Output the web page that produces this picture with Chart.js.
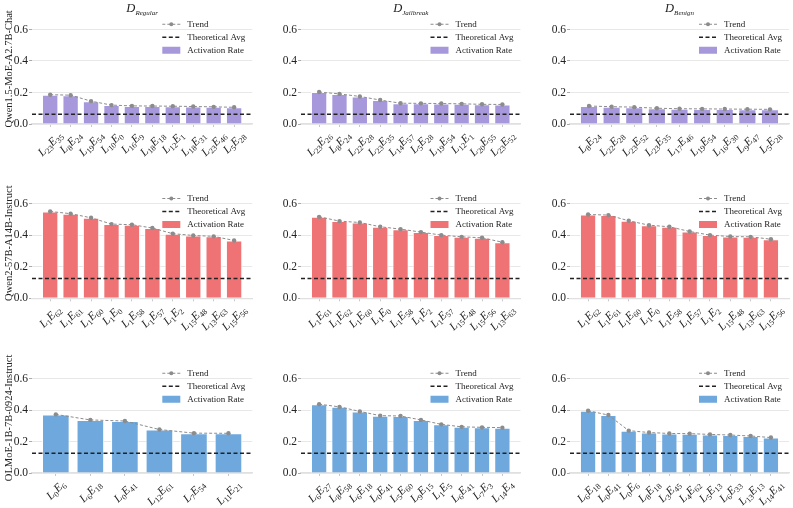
<!DOCTYPE html>
<html>
<head>
<meta charset="utf-8">
<script src="https://cdn.jsdelivr.net/npm/chart.js@4.4.1/dist/chart.umd.min.js"></script>
<style>
  body { margin: 0; background: #fff; width: 793px; height: 508px; overflow: hidden; position: relative; }
  canvas { position: absolute; }
</style>
</head>
<body>
<script>
// Datos: tasa de activación por experto (LxEy)
const qwen15RegularExperts = ['L23E35', 'L8E24', 'L19E54', 'L10E0', 'L16E9', 'L18E18', 'L12E1', 'L18E31', 'L23E46', 'L5E28'];
const qwen15RegularRates = [0.186, 0.183, 0.145, 0.120, 0.115, 0.114, 0.113, 0.111, 0.109, 0.106];
const qwen15JailbreakExperts = ['L23E26', 'L8E24', 'L22E28', 'L23E35', 'L14E57', 'L5E28', 'L19E54', 'L12E1', 'L20E55', 'L23E52'];
const qwen15JailbreakRates = [0.203, 0.191, 0.175, 0.152, 0.132, 0.131, 0.130, 0.128, 0.125, 0.124];
const qwen15BenignExperts = ['L8E24', 'L22E28', 'L23E52', 'L23E35', 'L17E46', 'L19E54', 'L16E30', 'L9E47', 'L5E28'];
const qwen15BenignRates = [0.114, 0.110, 0.107, 0.100, 0.097, 0.096, 0.095, 0.094, 0.093];

const qwen2RegularExperts = ['L1E62', 'L1E61', 'L1E60', 'L1E0', 'L1E58', 'L1E57', 'L1E2', 'L15E48', 'L13E63', 'L15E56'];
const qwen2RegularRates = [0.551, 0.537, 0.511, 0.471, 0.467, 0.446, 0.410, 0.399, 0.393, 0.367];
const qwen2JailbreakExperts = ['L1E61', 'L1E62', 'L1E60', 'L1E0', 'L1E58', 'L1E2', 'L1E57', 'L15E48', 'L15E56', 'L13E63'];
const qwen2JailbreakRates = [0.517, 0.490, 0.481, 0.454, 0.439, 0.420, 0.401, 0.390, 0.384, 0.356];
const qwen2BenignExperts = ['L1E62', 'L1E61', 'L1E60', 'L1E0', 'L1E58', 'L1E57', 'L1E2', 'L15E48', 'L13E63', 'L15E56'];
const qwen2BenignRates = [0.532, 0.528, 0.492, 0.464, 0.454, 0.424, 0.401, 0.392, 0.390, 0.375];

const olmoeRegularExperts = ['L0E6', 'L6E18', 'L0E41', 'L12E61', 'L7E54', 'L11E21'];
const olmoeRegularRates = [0.372, 0.337, 0.330, 0.276, 0.253, 0.252];
const olmoeJailbreakExperts = ['L6E27', 'L8E58', 'L6E18', 'L0E41', 'L5E60', 'L9E15', 'L1E5', 'L6E41', 'L7E3', 'L14E4'];
const olmoeJailbreakRates = [0.437, 0.420, 0.391, 0.364, 0.362, 0.337, 0.309, 0.293, 0.290, 0.288];
const olmoeBenignExperts = ['L6E18', 'L0E41', 'L0E6', 'L8E18', 'L3E45', 'L4E62', 'L5E13', 'L6E33', 'L13E13', 'L14E41'];
const olmoeBenignRates = [0.395, 0.368, 0.269, 0.257, 0.251, 0.250, 0.245, 0.241, 0.235, 0.225];

const modelNames = ['Qwen1.5-MoE-A2.7B-Chat', 'Qwen2-57B-A14B-Instruct', 'OLMoE-1B-7B-0924-Instruct'];
const theoreticalAvgs = [0.0625, 0.125, 0.125];
const datasetNames = ['Regular', 'Jailbreak', 'Benign'];
const yTicks = [0, 0.2, 0.4, 0.6];

const modelColors = ['#a798dc', '#ef7375', '#6ea8dd'];

// Filas = modelos, columnas = conjuntos de datos
const experts = [
  [qwen15RegularExperts, qwen15JailbreakExperts, qwen15BenignExperts],
  [qwen2RegularExperts, qwen2JailbreakExperts, qwen2BenignExperts],
  [olmoeRegularExperts, olmoeJailbreakExperts, olmoeBenignExperts]
];
const rates = [
  [qwen15RegularRates, qwen15JailbreakRates, qwen15BenignRates],
  [qwen2RegularRates, qwen2JailbreakRates, qwen2BenignRates],
  [olmoeRegularRates, olmoeJailbreakRates, olmoeBenignRates]
];

// Geometria de cada painel (posição na página)
const colBoxes = [
  { x: 0, w: 262, axisW: 32, padR: 9.7 },
  { x: 262, w: 268, axisW: 39, padR: 9.5 },
  { x: 530, w: 263, axisW: 40, padR: 3.3 }
];
const rowBoxes = [
  { y: 0, h: 165, padT: 13.75, axisH: 41 },
  { y: 165, h: 170, padT: 23, axisH: 36.7 },
  { y: 335, h: 173, padT: 27.75, axisH: 35 }
];

const serif = "'Liberation Serif', 'DejaVu Serif', serif";
Chart.defaults.font.family = serif;
Chart.defaults.color = '#222';

// Desenha um rótulo tipo L23E35 com subscritos, rodado 45 graus
function drawExpertLabel(ctx, text, cx, top) {
  const m = text.match(/^L(\d+)E(\d+)$/);
  const mainFont = 'italic 11.5px ' + serif;
  const subFont = '8px ' + serif;
  const parts = [['L', mainFont, 0], [m[1], subFont, 2.5], ['E', mainFont, 0], [m[2], subFont, 2.5]];
  let w = 0;
  parts.forEach(p => { ctx.font = p[1]; p.push(ctx.measureText(p[0]).width); w += p[3]; });
  const h = 10;
  const cy = top + (w + h) * 0.7071 / 2;
  ctx.save();
  ctx.translate(cx, cy);
  ctx.rotate(-Math.PI / 4);
  ctx.fillStyle = '#222';
  ctx.textBaseline = 'alphabetic';
  ctx.textAlign = 'left';
  let x = -w / 2;
  parts.forEach(p => {
    ctx.font = p[1];
    ctx.fillText(p[0], x, 3.5 + p[2]);
    x += p[3];
  });
  ctx.restore();
}

const decorPlugin = {
  id: 'decor',
  afterDraw(chart) {
    const ctx = chart.ctx;
    const area = chart.chartArea;
    const o = chart.options.plugins.decor;
    const xs = chart.scales.x;

    // rótulos do eixo x
    o.experts.forEach((e, i) => drawExpertLabel(ctx, e, xs.getPixelForValue(i), area.bottom + 6));

    // legenda
    const lx = area.right - 90, tx = area.right - 65, ly = area.top + 10.5;
    ctx.save();
    ctx.lineWidth = 1;
    ctx.strokeStyle = '#8c8c8c';
    ctx.setLineDash([3, 2]);
    ctx.beginPath(); ctx.moveTo(lx, ly); ctx.lineTo(lx + 18, ly); ctx.stroke();
    ctx.setLineDash([]);
    ctx.fillStyle = '#8c8c8c';
    ctx.beginPath(); ctx.arc(lx + 9, ly, 2, 0, Math.PI * 2); ctx.fill();
    ctx.strokeStyle = '#222';
    ctx.lineWidth = 1.5;
    ctx.setLineDash([4, 2.5]);
    ctx.beginPath(); ctx.moveTo(lx, ly + 13); ctx.lineTo(lx + 18, ly + 13); ctx.stroke();
    ctx.setLineDash([]);
    ctx.fillStyle = o.color;
    ctx.fillRect(lx, ly + 26 - 3.5, 18, 7);
    ctx.fillStyle = '#222';
    ctx.font = '9px ' + serif;
    ctx.textBaseline = 'middle';
    ctx.textAlign = 'left';
    ctx.fillText('Trend', tx, ly);
    ctx.fillText('Theoretical Avg', tx, ly + 13);
    ctx.fillText('Activation Rate', tx, ly + 26);

    // título da coluna (só na primeira linha)
    if (o.title) {
      const mainFont = 'italic 12.5px ' + serif;
      const subFont = 'italic 7px ' + serif;
      ctx.font = mainFont;
      const w1 = ctx.measureText('D').width;
      ctx.font = subFont;
      const w2 = ctx.measureText(o.title).width;
      const cx = (area.left + area.right) / 2;
      let x = cx - (w1 + w2) / 2;
      ctx.textBaseline = 'alphabetic';
      ctx.font = mainFont;
      ctx.fillText('D', x, 12);
      ctx.font = subFont;
      ctx.fillText(o.title, x + w1, 14.5);
    }
    ctx.restore();
  }
};

function criarPainel(r, c) {
  const col = colBoxes[c], row = rowBoxes[r];
  const canvas = document.createElement('canvas');
  canvas.width = col.w;
  canvas.height = row.h;
  canvas.style.left = col.x + 'px';
  canvas.style.top = row.y + 'px';
  canvas.style.width = col.w + 'px';
  canvas.style.height = row.h + 'px';
  document.body.appendChild(canvas);

  const vals = rates[r][c];
  const names = experts[r][c];
  const n = vals.length;
  const margin = 0.05 * (n - 0.2);
  const xMin = -0.4 - margin, xMax = n - 0.6 + margin;
  const pts = vals.map((v, i) => ({ x: i, y: v }));

  return new Chart(canvas, {
    type: 'bar',
    data: {
      datasets: [
        {
          type: 'line', label: 'Trend', data: pts,
          borderColor: '#8c8c8c', borderWidth: 1, borderDash: [3, 2],
          pointRadius: 2.2, pointBackgroundColor: '#8c8c8c', pointBorderWidth: 0,
          order: 1
        },
        {
          type: 'line', label: 'Theoretical Avg',
          data: [{ x: xMin, y: theoreticalAvgs[r] }, { x: xMax, y: theoreticalAvgs[r] }],
          borderColor: '#222', borderWidth: 1.5, borderDash: [4, 2.5], pointRadius: 0,
          order: 2
        },
        {
          type: 'bar', label: 'Activation Rate', data: pts,
          backgroundColor: modelColors[r], borderColor: 'rgba(255,255,255,0.9)', borderWidth: 1,
          barPercentage: 0.8, categoryPercentage: 1,
          order: 3
        }
      ]
    },
    options: {
      responsive: false,
      animation: false,
      layout: { padding: { top: row.padT, right: col.padR, left: 0, bottom: 0 } },
      plugins: {
        legend: { display: false },
        tooltip: { enabled: false },
        decor: { experts: names, color: modelColors[r], title: r === 0 ? datasetNames[c] : null }
      },
      scales: {
        x: {
          type: 'linear', min: xMin, max: xMax, offset: false,
          afterBuildTicks: s => { s.ticks = names.map((_, i) => ({ value: i })); },
          afterFit: s => { s.height = row.axisH; },
          ticks: { display: false },
          grid: { offset: false, drawOnChartArea: false, tickLength: 3, tickColor: '#c8c8c8' },
          border: { color: '#e0e0e0', width: 1.2 }
        },
        y: {
          min: 0, max: 0.7,
          afterBuildTicks: s => { s.ticks = yTicks.map(v => ({ value: v })); },
          afterFit: s => { s.width = col.axisW; },
          ticks: { font: { size: 11.5 }, color: '#222', padding: 1, callback: v => v.toFixed(1) },
          grid: { color: '#e8e8e8', tickLength: 3, tickColor: '#aaa' },
          border: { display: false },
          title: { display: c === 0, text: modelNames[r], font: { size: 10.5 }, color: '#222', padding: { top: 3, bottom: 0 } }
        }
      }
    },
    plugins: [decorPlugin]
  });
}

document.addEventListener('DOMContentLoaded', () => {
  for (let r = 0; r < 3; r++) {
    for (let c = 0; c < 3; c++) criarPainel(r, c);
  }
});
</script>
</body>
</html>
